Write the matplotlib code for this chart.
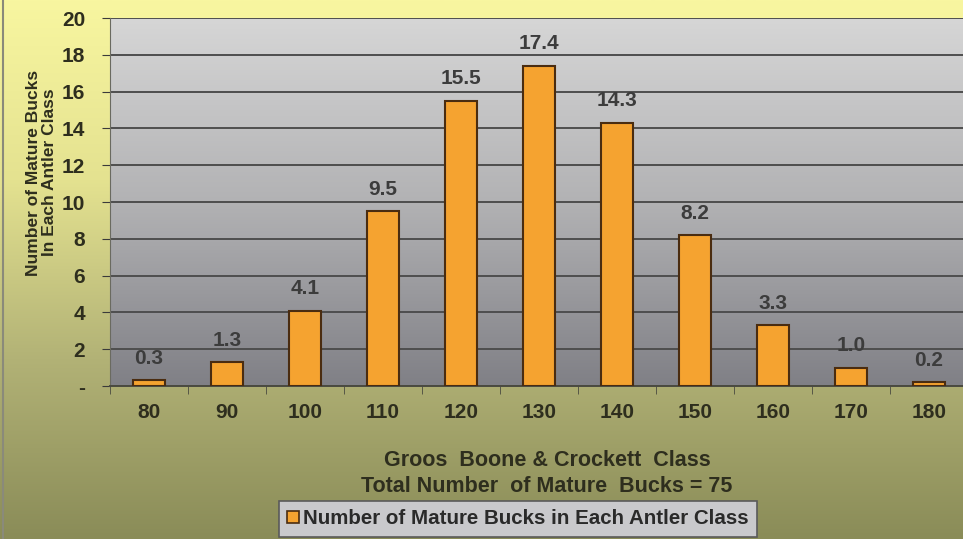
import matplotlib.pyplot as plt
import numpy as np
from matplotlib.colors import LinearSegmentedColormap
from matplotlib.patches import Patch, Rectangle

classes = ["80", "90", "100", "110", "120", "130", "140", "150", "160", "170", "180"]
bucks = [0.3, 1.3, 4.1, 9.5, 15.5, 17.4, 14.3, 8.2, 3.3, 1.0, 0.2]
y_ticks = [0, 2, 4, 6, 8, 10, 12, 14, 16, 18, 20]
y_tick_labels = ["-", "2", "4", "6", "8", "10", "12", "14", "16", "18", "20"]

plt.rcParams['font.family'] = ['Liberation Sans', 'DejaVu Sans']
plt.rcParams['font.weight'] = 'bold'

W, H = 963, 539
fig = plt.figure(figsize=(W / 100, H / 100), dpi=100)

# figure background: yellow fading to olive
bg = fig.add_axes([0, 0, 1, 1], zorder=-10)
bg_cmap = LinearSegmentedColormap.from_list(
    "bg", ["#f8f6a0", "#e4e290", "#b2b276", "#8a8c58"])
bg.imshow(np.linspace(0, 1, 256).reshape(-1, 1), cmap=bg_cmap, aspect="auto",
          extent=[0, 1, 0, 1])
bg.axis("off")
bg.add_patch(Rectangle((0.003, 0), 0.0, 1, transform=bg.transAxes,
                       edgecolor="#8a8a7a", lw=1.5, fill=False))

# plot area
ax = fig.add_axes([110 / W, 153 / H, 858 / W, 368 / H])
ax.patch.set_visible(False)
pa_cmap = LinearSegmentedColormap.from_list("pa", ["#d6d6d6", "#b2b2b4", "#808086"])
ax.imshow(np.linspace(0, 1, 256).reshape(-1, 1), cmap=pa_cmap, aspect="auto",
          extent=[0, 1, 0, 1], transform=ax.transAxes, zorder=0)

x = np.arange(len(classes))
bars = ax.bar(x, bucks, width=0.42, color="#f5a330", edgecolor="#4a2c10",
              linewidth=1.5, zorder=3)
for xi, v in zip(x, bucks):
    ax.annotate(f"{v:.1f}", (xi, v), xytext=(0, 9), textcoords="offset points",
                ha="center", va="bottom", fontsize=15, fontweight="bold",
                color="#3c3c3c", zorder=4)

ax.set_xlim(-0.5, len(classes) - 0.5)
ax.set_ylim(0, 20)
ax.set_yticks(y_ticks)
ax.set_yticklabels(y_tick_labels)
ax.set_xticks(x)
ax.set_xticklabels(classes)
ax.set_xticks(np.arange(-0.5, len(classes), 1), minor=True)
ax.tick_params(axis="x", which="major", length=0, pad=12, labelsize=15,
               labelcolor="#2e2e1e")
ax.tick_params(axis="x", which="minor", length=6, direction="out", color="#4a4a40")
ax.tick_params(axis="y", length=6, direction="out", pad=12, labelsize=15,
               labelcolor="#2e2e1e", color="#3a3a3a")
ax.grid(axis="y", color="#4e4e4e", linewidth=1.4, zorder=1)
for side in ["top", "right"]:
    ax.spines[side].set_visible(False)
ax.spines["left"].set_color("#6a6a60")
ax.spines["bottom"].set_color("#4a4a40")
ax.spines["bottom"].set_linewidth(1.4)

ax.set_ylabel("Number of Mature Bucks\nIn Each Antler Class", fontsize=12.5,
              fontweight="bold", color="#2e2e1e", linespacing=1.05)
ax.yaxis.set_label_coords(-0.062, 0.58)

fig.text(547 / W, 1 - 460 / H, "Groos  Boone & Crockett  Class",
         ha="center", va="center", fontsize=15.5, fontweight="bold", color="#2e2e1e")
fig.text(547 / W, 1 - 486 / H, "Total Number  of Mature  Bucks = 75",
         ha="center", va="center", fontsize=15.5, fontweight="bold", color="#2e2e1e")

handle = Patch(facecolor="#f5a330", edgecolor="#4a2c10", linewidth=1.2)
leg = fig.legend([handle], ["Number of Mature Bucks in Each Antler Class"],
                 loc="center", bbox_to_anchor=(518 / W, 1 - 519 / H),
                 fontsize=14.8, frameon=True, fancybox=False,
                 facecolor="#c9c9cc", edgecolor="#5a5a5a", framealpha=1,
                 handlelength=0.55, handleheight=0.55, handletextpad=0.2,
                 borderpad=0.4, borderaxespad=0)
leg.get_frame().set_linewidth(1.2)
for t in leg.get_texts():
    t.set_color("#2a2a2a")
    t.set_fontweight("bold")

fig.savefig("out.png", dpi=100)
